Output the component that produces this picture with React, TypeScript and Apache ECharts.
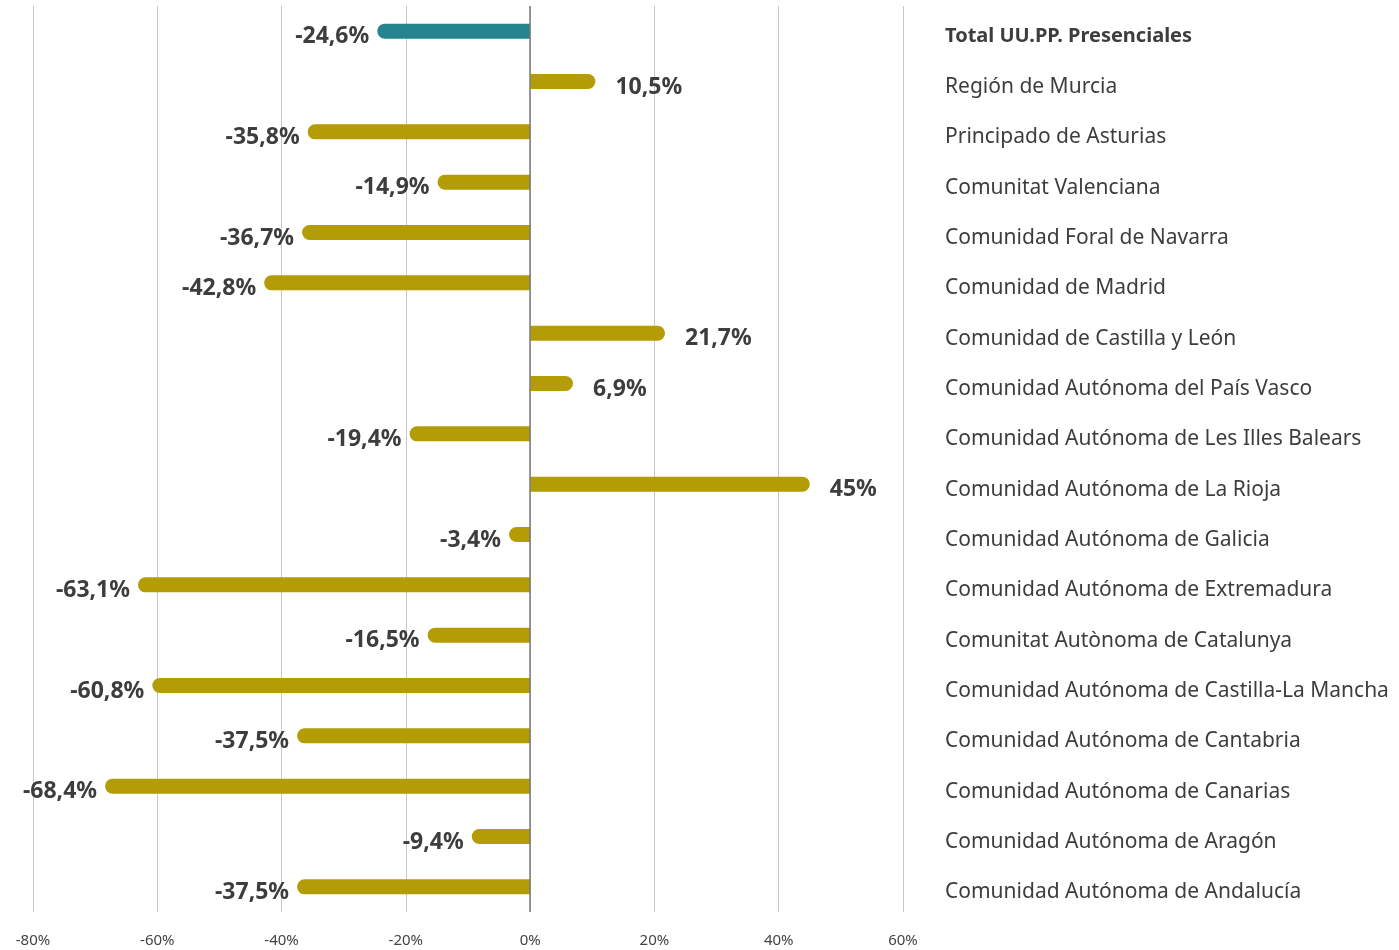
import React, { useEffect, useRef } from "react";
import * as echarts from "echarts";

const categories: string[] = [
  "Total UU.PP. Presenciales",
  "Región de Murcia",
  "Principado de Asturias",
  "Comunitat Valenciana",
  "Comunidad Foral de Navarra",
  "Comunidad de Madrid",
  "Comunidad de Castilla y León",
  "Comunidad Autónoma del País Vasco",
  "Comunidad Autónoma de Les Illes Balears",
  "Comunidad Autónoma de La Rioja",
  "Comunidad Autónoma de Galicia",
  "Comunidad Autónoma de Extremadura",
  "Comunitat Autònoma de Catalunya",
  "Comunidad Autónoma de Castilla-La Mancha",
  "Comunidad Autónoma de Cantabria",
  "Comunidad Autónoma de Canarias",
  "Comunidad Autónoma de Aragón",
  "Comunidad Autónoma de Andalucía",
];

const values: number[] = [
  -24.6, 10.5, -35.8, -14.9, -36.7, -42.8, 21.7, 6.9, -19.4, 45, -3.4, -63.1,
  -16.5, -60.8, -37.5, -68.4, -9.4, -37.5,
];

const xTicks = { min: -80, max: 60, interval: 20 };

const FONT = "'Noto Sans', 'Open Sans', sans-serif";
const GOLD = "#b39c06";
const TEAL = "#24858f";
const TEXT = "#3d3d3d";

const fmt = (v: number) => String(v).replace(".", ",") + "%";

export default function App() {
  const ref = useRef<HTMLDivElement>(null);

  useEffect(() => {
    if (!ref.current) return;
    const chart = echarts.init(ref.current, undefined, { renderer: "svg" });

    const data = values.map((v, i) => {
      const neg = v < 0;
      return {
        value: v,
        itemStyle: {
          color: i === 0 ? TEAL : GOLD,
          borderRadius: neg ? [7.5, 0, 0, 7.5] : [0, 7.5, 7.5, 0],
        },
        label: {
          position: neg ? "left" : "right",
          distance: neg ? 8 : 20,
        },
      };
    });

    chart.setOption({
      animation: false,
      grid: { left: 33, right: 496, top: 6, bottom: 38, containLabel: false },
      xAxis: {
        type: "value",
        min: xTicks.min,
        max: xTicks.max,
        interval: xTicks.interval,
        axisLine: { show: false },
        axisTick: { show: false },
        splitLine: { show: true, lineStyle: { color: "#c8c8c8", width: 1 } },
        axisLabel: {
          formatter: "{value}%",
          fontFamily: FONT,
          fontSize: 15,
          color: "#444",
          margin: 19,
        },
      },
      yAxis: {
        type: "category",
        data: categories,
        inverse: true,
        position: "right",
        axisLine: { show: false, onZero: false },
        axisTick: { show: false },
        splitLine: { show: false },
        axisLabel: {
          align: "left",
          margin: 42,
          fontFamily: FONT,
          fontSize: 21,
          color: TEXT,
          padding: [7, 0, 0, 0],
          formatter: (val: string) =>
            val === categories[0] ? "{b|" + val + "}" : val,
          rich: {
            b: { fontWeight: "bold", fontFamily: FONT, fontSize: 20, color: TEXT },
          },
        },
      },
      series: [
        {
          type: "bar",
          data,
          barWidth: 15,
          label: {
            show: true,
            formatter: (p: any) => fmt(p.value),
            fontFamily: FONT,
            fontSize: 23,
            fontWeight: "bold",
            color: TEXT,
            offset: [0, 3],
          },
          markLine: {
            silent: true,
            symbol: "none",
            label: { show: false },
            lineStyle: { color: "#7a7a7a", width: 1.5, type: "solid" },
            data: [{ xAxis: 0 }],
          },
        },
      ],
    });

    return () => chart.dispose();
  }, []);

  return (
    <div
      ref={ref}
      style={{ position: "fixed", left: 0, top: 0, width: 1399, height: 950 }}
    />
  );
}
